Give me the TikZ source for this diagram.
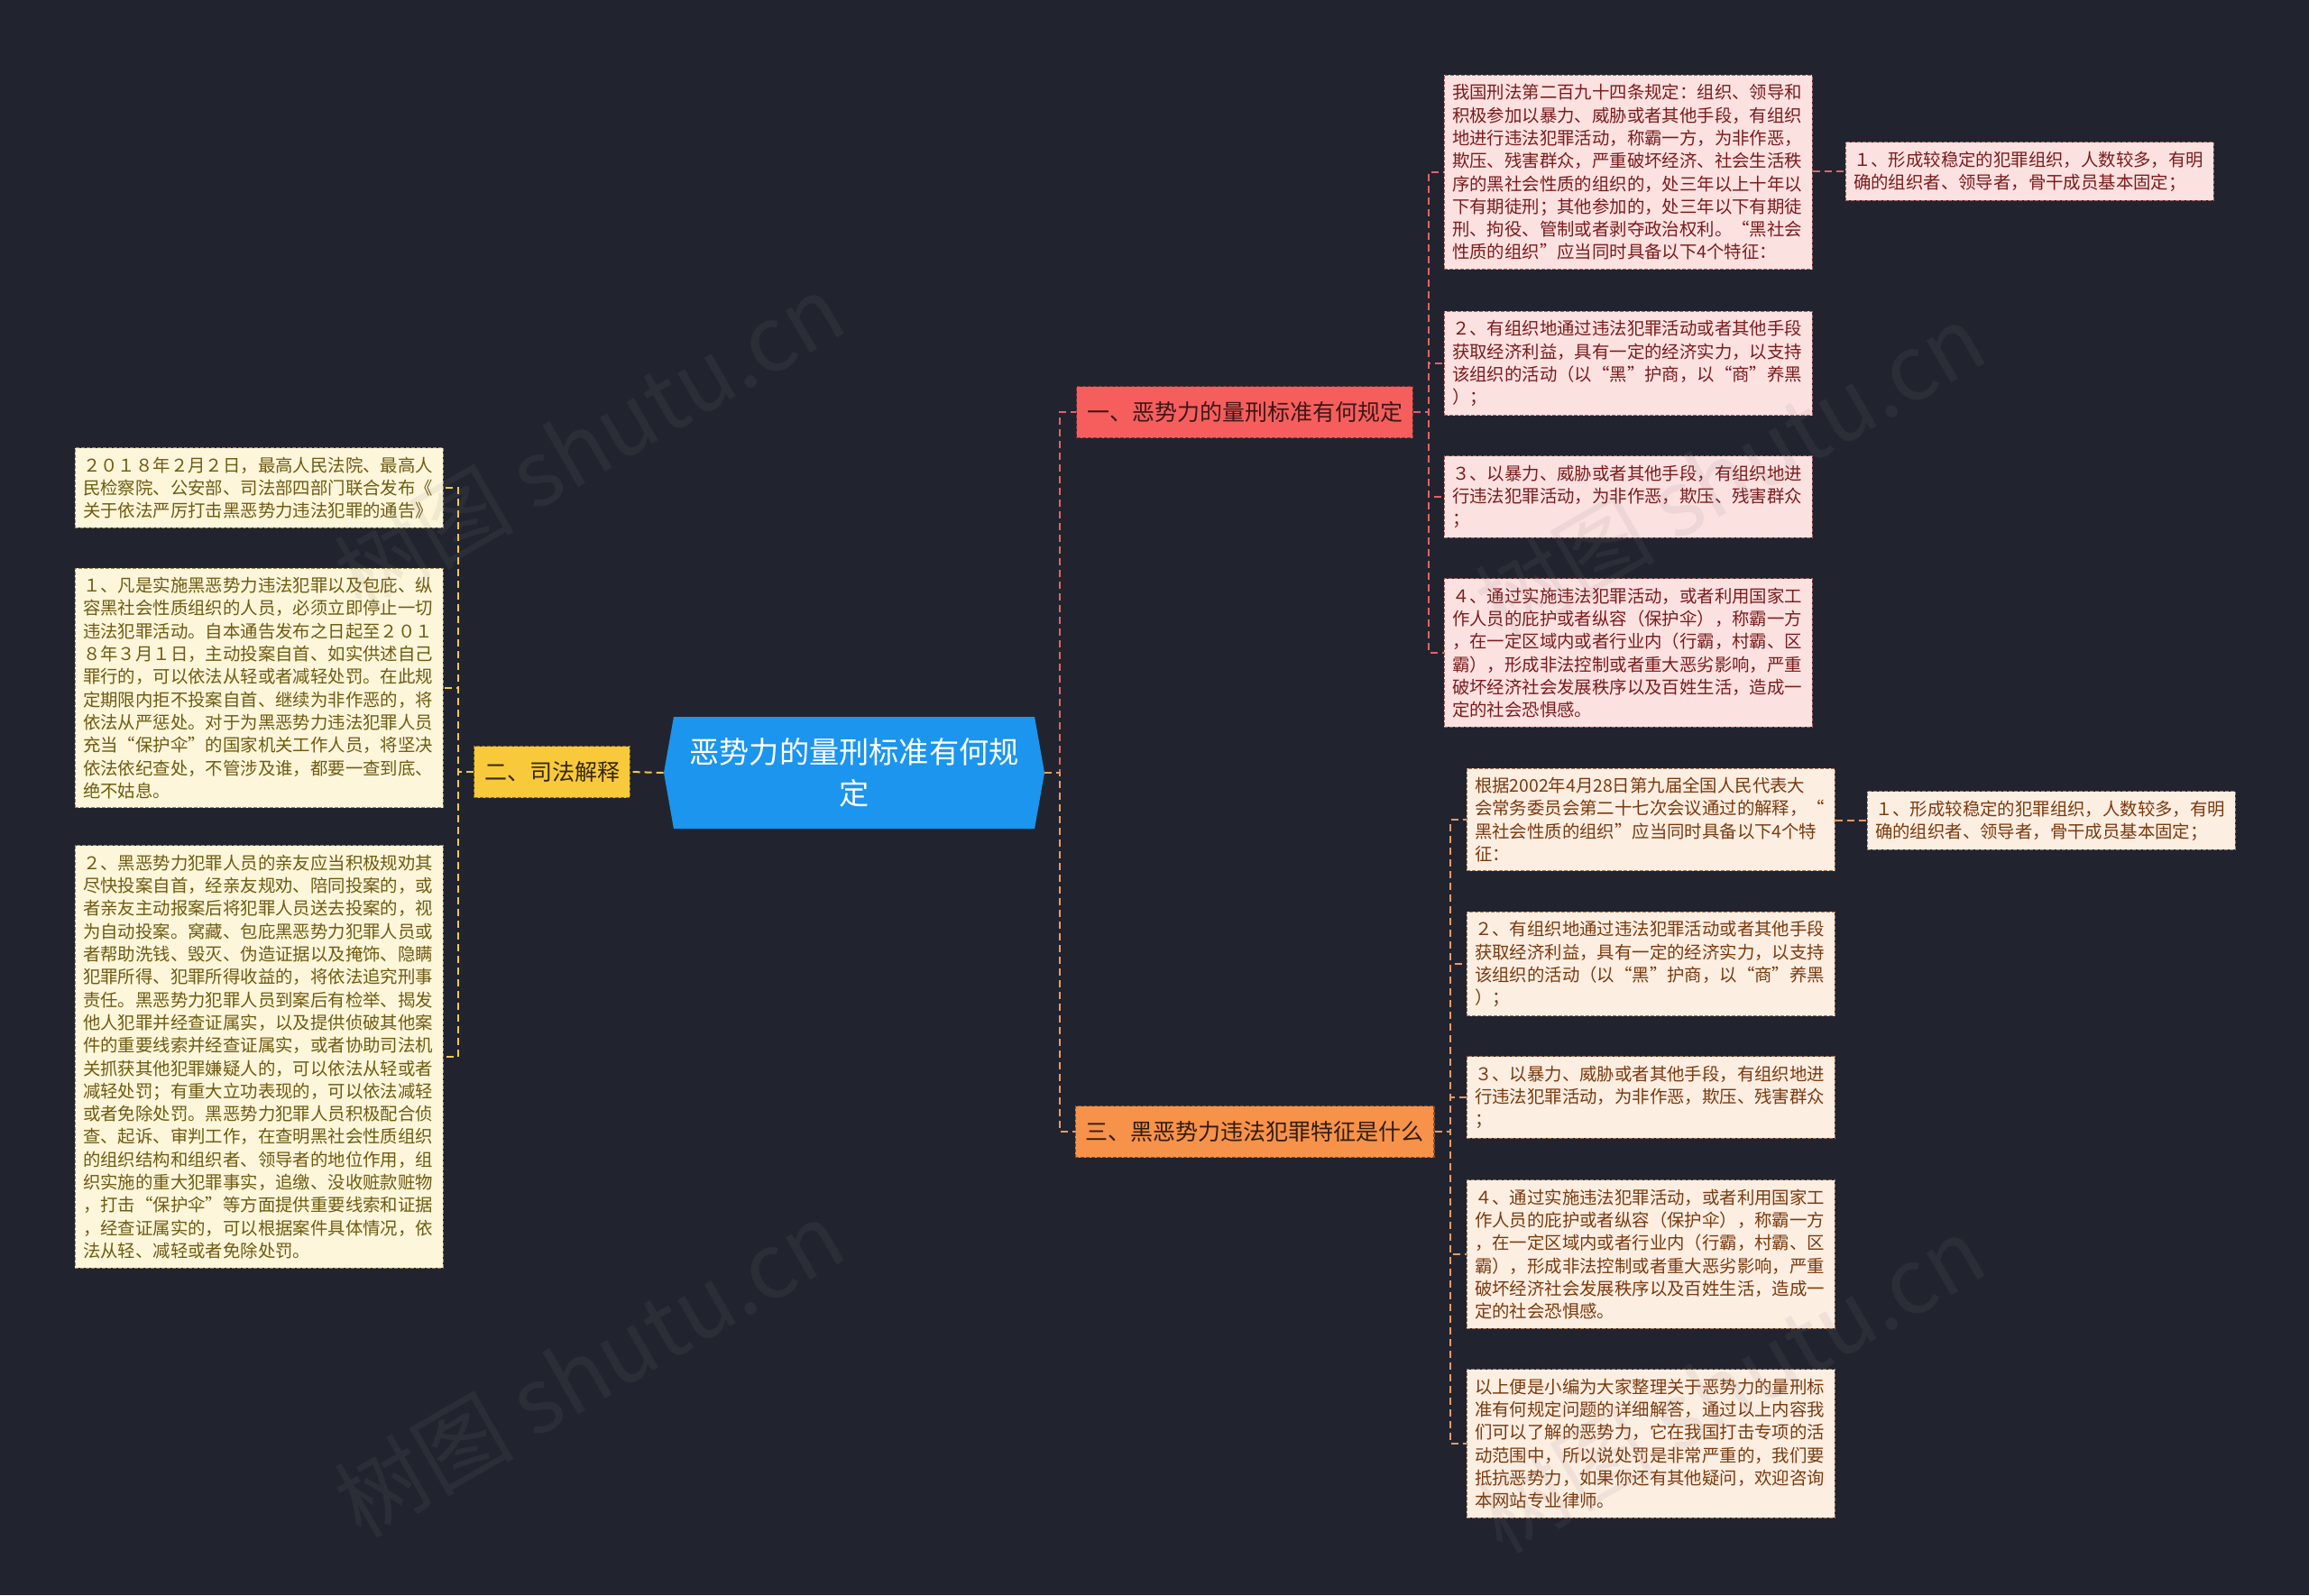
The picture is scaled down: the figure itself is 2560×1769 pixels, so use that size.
\documentclass[tikz,border=0pt]{standalone}
\usepackage{fontspec}
\setmainfont{Noto Sans CJK SC}
\usetikzlibrary{shapes.symbols}
\definecolor{bgc}{HTML}{21242F}
\definecolor{centrec}{HTML}{1B95EE}
\definecolor{redb}{HTML}{F65E5E}
\definecolor{yelb}{HTML}{F9C93C}
\definecolor{orab}{HTML}{F7924B}
\definecolor{redfill}{HTML}{FCE1E1}
\definecolor{yelfill}{HTML}{FDF6DA}
\definecolor{orafill}{HTML}{FDEEE2}
\definecolor{redtext}{HTML}{7A1C1C}
\definecolor{yeltext}{HTML}{6F5B12}
\definecolor{oratext}{HTML}{7A3A0E}
\definecolor{redln}{HTML}{E06464}
\definecolor{yelln}{HTML}{F2CB4E}
\definecolor{oraln}{HTML}{EC9A64}
\tikzset{
  centre/.style={signal, signal to=east and west, signal pointer angle=160, fill=centrec, text=white, minimum width=211pt, minimum height=62pt, align=center, inner sep=0pt, font=\fontsize{16.6}{22.9}\selectfont},
  branch/.style={draw, dash pattern=on 2pt off 1pt, line width=0.6pt, minimum height=28.5pt, inner xsep=5.7pt, font=\fontsize{12.5}{15}\selectfont},
  leaf/.style={draw, dash pattern=on 2pt off 1pt, line width=0.5pt, text width=195pt, align=left, inner xsep=4.5pt, inner ysep=5pt, font=\fontsize{9.7}{12.65}\selectfont},
  redleaf/.style={leaf, fill=redfill, draw=redtext!70, text=redtext},
  yelleaf/.style={leaf, fill=yelfill, draw=yeltext!70, text=yeltext},
  oraleaf/.style={leaf, fill=orafill, draw=oratext!70, text=oratext},
  link/.style={dash pattern=on 4pt off 2.5pt, line width=1pt},
  wmark/.style={rotate=30, text=gray, opacity=0.11, font=\fontsize{50}{50}\selectfont},
}
\begin{document}
\begin{tikzpicture}[x=0.5pt,y=-0.5pt]
\fill[bgc] (0,0) rectangle (2560,1769);
\useasboundingbox (0,0) rectangle (2560,1769);
% centre and main branches
\node[centre] (c) at (947,857) {恶势力的量刑标准有何规\\定};
\node[branch, fill=redb, draw=redb!55!black, text=redb!25!black] (b1) at (1380,457) {一、恶势力的量刑标准有何规定};
\node[branch, fill=yelb, draw=yelb!55!black, text=yelb!20!black] (b2) at (612,856) {二、司法解释};
\node[branch, fill=orab, draw=orab!55!black, text=orab!20!black] (b3) at (1391,1255) {三、黑恶势力违法犯罪特征是什么};
\coordinate (j0) at (1175,857);
\coordinate (j1) at (1584,457);
\coordinate (j2) at (508,856);
\coordinate (j3) at (1608,1255);
% branch one
\node[redleaf] (r1) at (1805,191) {我国刑法第二百九十四条规定：组织、领导和\\积极参加以暴力、威胁或者其他手段，有组织\\地进行违法犯罪活动，称霸一方，为非作恶，\\欺压、残害群众，严重破坏经济、社会生活秩\\序的黑社会性质的组织的，处三年以上十年以\\下有期徒刑；其他参加的，处三年以下有期徒\\刑、拘役、管制或者剥夺政治权利。“黑社会\\性质的组织”应当同时具备以下4个特征：};
\node[redleaf] (r1a) at (2250,190) {１、形成较稳定的犯罪组织，人数较多，有明\\确的组织者、领导者，骨干成员基本固定；};
\node[redleaf] (r2) at (1805,403) {２、有组织地通过违法犯罪活动或者其他手段\\获取经济利益，具有一定的经济实力，以支持\\该组织的活动（以“黑”护商，以“商”养黑\\）；};
\node[redleaf] (r3) at (1805,551) {３、以暴力、威胁或者其他手段，有组织地进\\行违法犯罪活动，为非作恶，欺压、残害群众\\；};
\node[redleaf] (r4) at (1805,724) {４、通过实施违法犯罪活动，或者利用国家工\\作人员的庇护或者纵容（保护伞），称霸一方\\，在一定区域内或者行业内（行霸，村霸、区\\霸），形成非法控制或者重大恶劣影响，严重\\破坏经济社会发展秩序以及百姓生活，造成一\\定的社会恐惧感。};
% branch two
\node[yelleaf] (y1) at (287,541) {２０１８年２月２日，最高人民法院、最高人\\民检察院、公安部、司法部四部门联合发布《\\关于依法严厉打击黑恶势力违法犯罪的通告》};
\node[yelleaf] (y2) at (287,763) {１、凡是实施黑恶势力违法犯罪以及包庇、纵\\容黑社会性质组织的人员，必须立即停止一切\\违法犯罪活动。自本通告发布之日起至２０１\\８年３月１日，主动投案自首、如实供述自己\\罪行的，可以依法从轻或者减轻处罚。在此规\\定期限内拒不投案自首、继续为非作恶的，将\\依法从严惩处。对于为黑恶势力违法犯罪人员\\充当“保护伞”的国家机关工作人员，将坚决\\依法依纪查处，不管涉及谁，都要一查到底、\\绝不姑息。};
\node[yelleaf] (y3) at (287,1172) {２、黑恶势力犯罪人员的亲友应当积极规劝其\\尽快投案自首，经亲友规劝、陪同投案的，或\\者亲友主动报案后将犯罪人员送去投案的，视\\为自动投案。窝藏、包庇黑恶势力犯罪人员或\\者帮助洗钱、毁灭、伪造证据以及掩饰、隐瞒\\犯罪所得、犯罪所得收益的，将依法追究刑事\\责任。黑恶势力犯罪人员到案后有检举、揭发\\他人犯罪并经查证属实，以及提供侦破其他案\\件的重要线索并经查证属实，或者协助司法机\\关抓获其他犯罪嫌疑人的，可以依法从轻或者\\减轻处罚；有重大立功表现的，可以依法减轻\\或者免除处罚。黑恶势力犯罪人员积极配合侦\\查、起诉、审判工作，在查明黑社会性质组织\\的组织结构和组织者、领导者的地位作用，组\\织实施的重大犯罪事实，追缴、没收赃款赃物\\，打击“保护伞”等方面提供重要线索和证据\\，经查证属实的，可以根据案件具体情况，依\\法从轻、减轻或者免除处罚。};
% branch three
\node[oraleaf] (o1) at (1830,909) {根据2002年4月28日第九届全国人民代表大\\会常务委员会第二十七次会议通过的解释，“\\黑社会性质的组织”应当同时具备以下4个特\\征：};
\node[oraleaf] (o1a) at (2274,910) {１、形成较稳定的犯罪组织，人数较多，有明\\确的组织者、领导者，骨干成员基本固定；};
\node[oraleaf] (o2) at (1830,1069) {２、有组织地通过违法犯罪活动或者其他手段\\获取经济利益，具有一定的经济实力，以支持\\该组织的活动（以“黑”护商，以“商”养黑\\）；};
\node[oraleaf] (o3) at (1830,1217) {３、以暴力、威胁或者其他手段，有组织地进\\行违法犯罪活动，为非作恶，欺压、残害群众\\；};
\node[oraleaf] (o4) at (1830,1391) {４、通过实施违法犯罪活动，或者利用国家工\\作人员的庇护或者纵容（保护伞），称霸一方\\，在一定区域内或者行业内（行霸，村霸、区\\霸），形成非法控制或者重大恶劣影响，严重\\破坏经济社会发展秩序以及百姓生活，造成一\\定的社会恐惧感。};
\node[oraleaf] (o5) at (1830,1601) {以上便是小编为大家整理关于恶势力的量刑标\\准有何规定问题的详细解答，通过以上内容我\\们可以了解的恶势力，它在我国打击专项的活\\动范围中，所以说处罚是非常严重的，我们要\\抵抗恶势力，如果你还有其他疑问，欢迎咨询\\本网站专业律师。};
% connectors
\draw[link, draw=redln] (c.east) -- (j0) |- (b1.west);
\draw[link, draw=oraln] (c.east) -- (j0) |- (b3.west);
\draw[link, draw=yelln] (c.west) -- (b2.east);
\foreach \n in {r1,r2,r3,r4}
  \draw[link, draw=redln] (b1.east) -- (j1) |- (\n.west);
\foreach \n in {y1,y2,y3}
  \draw[link, draw=yelln] (b2.west) -- (j2) |- (\n.east);
\foreach \n in {o1,o2,o3,o4,o5}
  \draw[link, draw=oraln] (b3.east) -- (j3) |- (\n.west);
\draw[link, draw=redln] (r1.east |- r1a.west) -- (r1a.west);
\draw[link, draw=oraln] (o1.east |- o1a.west) -- (o1a.west);
% watermarks
\node[wmark] (w1) at (653,490) {树图 shutu.cn};
\node[wmark] (w2) at (1918,523) {树图 shutu.cn};
\node[wmark] (w3) at (653,1518) {树图 shutu.cn};
\node[wmark] (w4) at (1918,1535) {树图 shutu.cn};
\end{tikzpicture}
\end{document}
